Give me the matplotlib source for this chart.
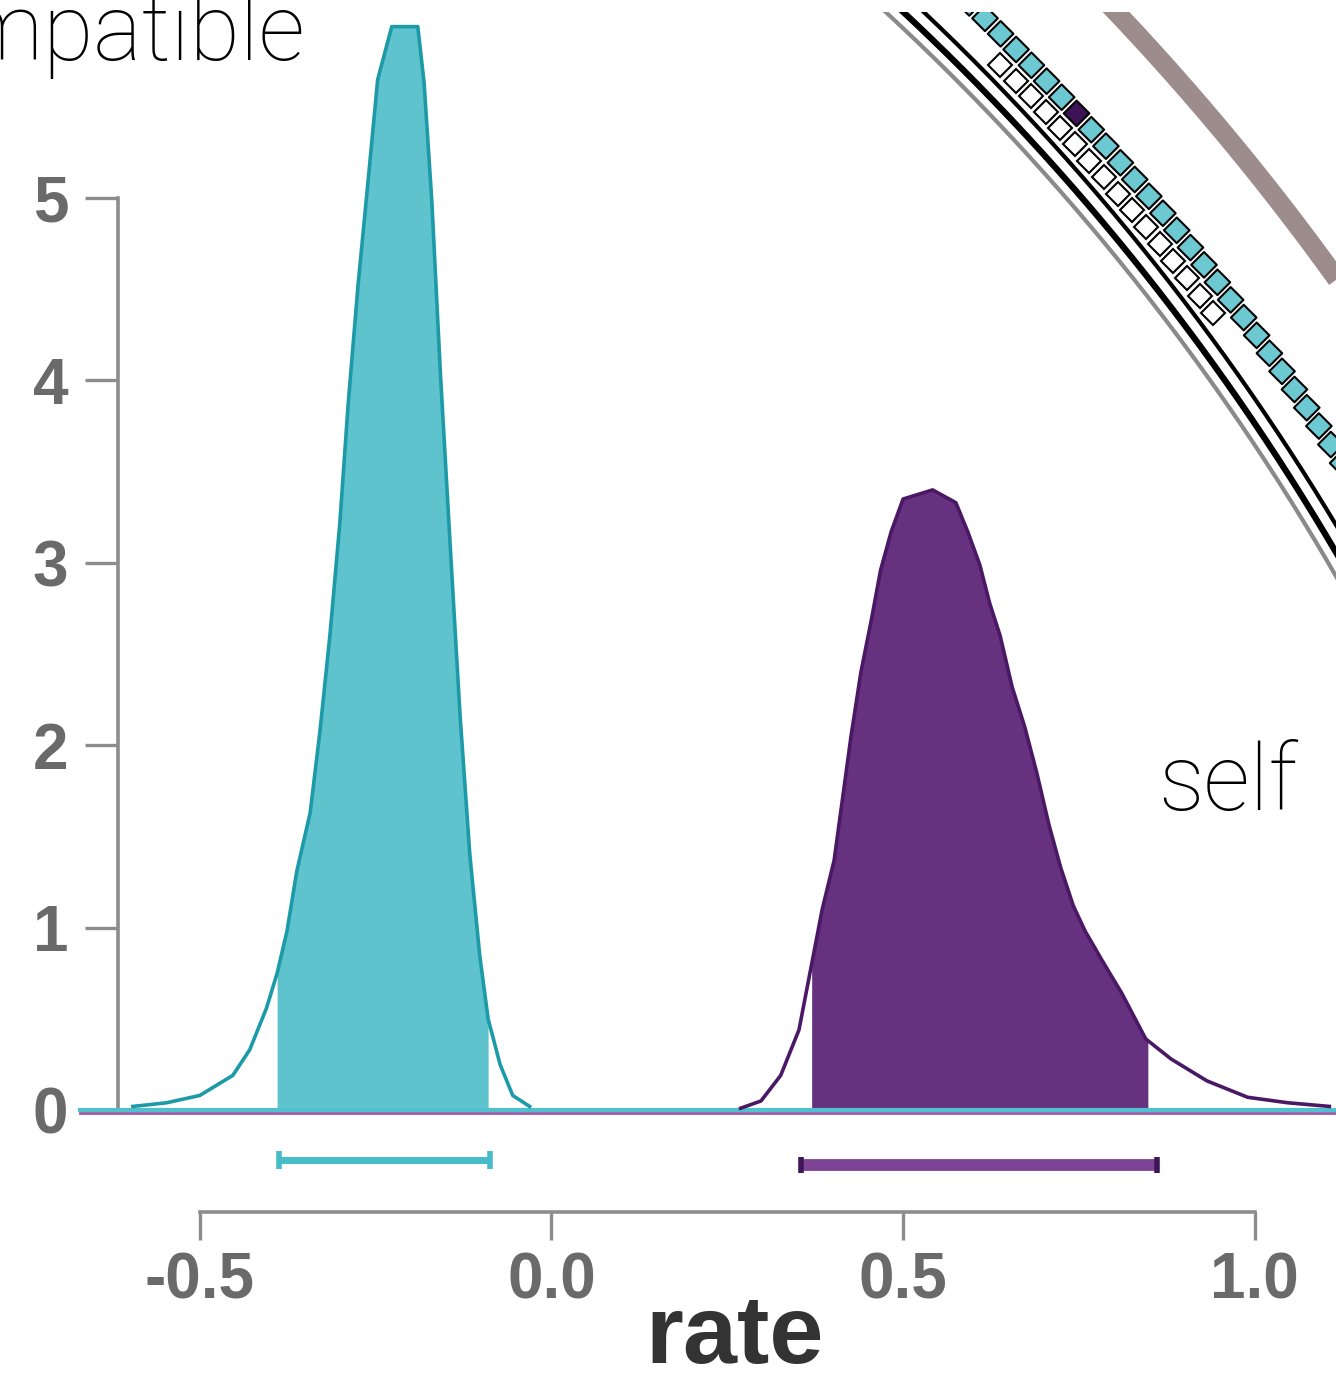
import numpy as np
import matplotlib.pyplot as plt

# density traces (rate, density)
teal_x = [-0.595, -0.547, -0.500, -0.453, -0.429, -0.405, -0.390, -0.376, -0.362,
          -0.343, -0.329, -0.315, -0.301, -0.289, -0.275, -0.260, -0.247, -0.227,
          -0.190, -0.181, -0.170, -0.158, -0.144, -0.130, -0.116, -0.102, -0.090,
          -0.073, -0.055, -0.031]
teal_y = [0.02, 0.04, 0.08, 0.19, 0.33, 0.56, 0.75, 0.98, 1.31,
          1.63, 2.08, 2.60, 3.21, 3.87, 4.52, 5.12, 5.65, 5.94,
          5.94, 5.63, 4.98, 4.05, 3.10, 2.17, 1.40, 0.85, 0.50,
          0.25, 0.08, 0.02]

purple_x = [0.269, 0.298, 0.326, 0.352, 0.370, 0.385, 0.402, 0.414, 0.426, 0.440,
            0.455, 0.468, 0.483, 0.500, 0.542, 0.575, 0.592, 0.609, 0.623, 0.638,
            0.655, 0.673, 0.690, 0.707, 0.724, 0.742, 0.759, 0.783, 0.811, 0.845,
            0.881, 0.932, 0.990, 1.047, 1.106]
purple_y = [0.01, 0.05, 0.19, 0.44, 0.80, 1.10, 1.37, 1.71, 2.05, 2.40,
            2.69, 2.96, 3.17, 3.35, 3.40, 3.33, 3.17, 2.99, 2.78, 2.60,
            2.32, 2.10, 1.85, 1.57, 1.33, 1.12, 0.98, 0.82, 0.64, 0.39,
            0.28, 0.16, 0.07, 0.04, 0.02]

# shaded intervals and the interval bars below the axis
teal_hpd = [-0.390, -0.090]
purple_hpd = [0.370, 0.848]
teal_bar = [-0.388, -0.088]
purple_bar = [0.355, 0.861]

y_ticks = [0, 1, 2, 3, 4, 5]
x_ticks = [-0.5, 0.0, 0.5, 1.0]
x_ticklabels = ["-0.5", "0.0", "0.5", "1.0"]

TEAL_FILL, TEAL_LINE, TEAL_BAR = "#5fc3cd", "#1d9aa8", "#45bcc8"
PURP_FILL, PURP_LINE, PURP_BAR = "#66327f", "#4b1866", "#7d4394"
AXIS_GREY = "#8c8c8c"
LABEL_GREY = "#6a6a6a"
NUM_FONT = ["Liberation Sans", "DejaVu Sans"]
THIN_FONT = ["Roboto", "Lato", "DejaVu Sans"]


def shade(ax, xs, ys, lo, hi, color):
    xs, ys = np.asarray(xs), np.asarray(ys)
    inside = (xs > lo) & (xs < hi)
    px = np.concatenate([[lo], xs[inside], [hi]])
    py = np.concatenate([[np.interp(lo, xs, ys)], ys[inside], [np.interp(hi, xs, ys)]])
    ax.fill_between(px, 0, py, color=color, lw=0, zorder=2)


def interval(ax, lo, hi, y, color, cap_color, lw, cap_h):
    ax.plot([lo, hi], [y, y], color=color, lw=lw, solid_capstyle="butt", zorder=4)
    ax.vlines([lo, hi], y - cap_h, y + cap_h, color=cap_color, lw=4, zorder=5)


fig = plt.figure(figsize=(13.36, 13.78), dpi=100)
ax = fig.add_axes([0, 0, 1, 1])
ax.set_xlim(-0.784, 1.1155)
ax.set_ylim(-1.469, 6.086)
ax.patch.set_alpha(0)

# baseline of both densities
ax.plot([-0.67, 1.12], [-0.015, -0.015], color="#9b5aa8", lw=2, zorder=3)
ax.plot([-0.67, 1.12], [0, 0], color="#4fc0cc", lw=3, zorder=4)

shade(ax, teal_x, teal_y, *teal_hpd, TEAL_FILL)
shade(ax, purple_x, purple_y, *purple_hpd, PURP_FILL)
ax.plot(teal_x, teal_y, color=TEAL_LINE, lw=2.6, zorder=5, solid_joinstyle="round")
ax.plot(purple_x, purple_y, color=PURP_LINE, lw=2.6, zorder=5, solid_joinstyle="round")

# interval bars
interval(ax, *teal_bar, -0.274, TEAL_BAR, TEAL_BAR, 5, 0.05)
interval(ax, *purple_bar, -0.30, PURP_BAR, "#3f1559", 8.5, 0.045)

for s in ["top", "right"]:
    ax.spines[s].set_visible(False)
ax.spines["left"].set_position(("data", -0.616))
ax.spines["left"].set_bounds(0, 5)
ax.spines["bottom"].set_position(("data", -0.56))
ax.spines["bottom"].set_bounds(-0.5, 1.0)
for s in ["left", "bottom"]:
    ax.spines[s].set_color(AXIS_GREY)
    ax.spines[s].set_linewidth(2.6)

ax.set_yticks(y_ticks)
ax.set_yticklabels([str(v) for v in y_ticks], fontweight="bold", family=NUM_FONT)
ax.set_xticks(x_ticks)
ax.set_xticklabels(x_ticklabels, fontweight="bold", family=NUM_FONT)
ax.tick_params(axis="y", length=24, width=2.4, color=AXIS_GREY, pad=12,
               labelsize=46, labelcolor=LABEL_GREY)
ax.tick_params(axis="x", length=20, width=2.4, color=AXIS_GREY, pad=8,
               labelsize=46, labelcolor=LABEL_GREY)

ax.text(0.261, -1.385, "rate", ha="center", va="baseline", fontsize=70,
        fontweight="bold", color="#333333", family=NUM_FONT)

# neighbouring panel text
fig.text(305 / 1336, 1 - 60 / 1378, "compatible", ha="right", va="baseline",
         fontsize=66, fontweight="light", family=THIN_FONT, color="black")
fig.text(1158 / 1336, 1 - 810 / 1378, "self", ha="left", va="baseline",
         fontsize=66, fontweight="light", family=THIN_FONT, color="black")

# edge of the circular tree from the neighbouring panel (pixel space)
tree = fig.add_axes([0, 0, 1, (1378 - 12) / 1378])
tree.set_xlim(0, 1336)
tree.set_ylim(1378, 12)
tree.axis("off")
cx, cy = -742, 1773
t = np.radians(np.linspace(25, 52, 400))


def arc(r):
    return cx + r * np.cos(t), cy - r * np.sin(t)


tree.plot(*arc(2560), color="#9c8c8c", lw=14, solid_capstyle="butt")
tree.plot(*arc(2398), color="#8a8a8a", lw=3)
tree.plot(*arc(2410), color="black", lw=4.5)
tree.plot(*arc(2424), color="black", lw=3)

tt = np.arange(np.radians(26), np.radians(51), 22 / 2462)
wx, wy = cx + 2440 * np.cos(tt), cy - 2440 * np.sin(tt)
keep = (wy > 60) & (wy < 320)
tree.plot(wx[keep], wy[keep], "D", ms=12, mfc="white", mec="black", mew=1.5, ls="none")
qx, qy = cx + 2462 * np.cos(tt), cy - 2462 * np.sin(tt)
cols = ["#6cc9d1"] * len(tt)
cols[int(np.argmin(np.abs(tt - np.radians(42.6))))] = "#3d1256"
tree.scatter(qx, qy, marker="D", s=170, c=cols, edgecolors="black", linewidths=1.5, zorder=3)

fig.savefig("out.png", dpi=100)
